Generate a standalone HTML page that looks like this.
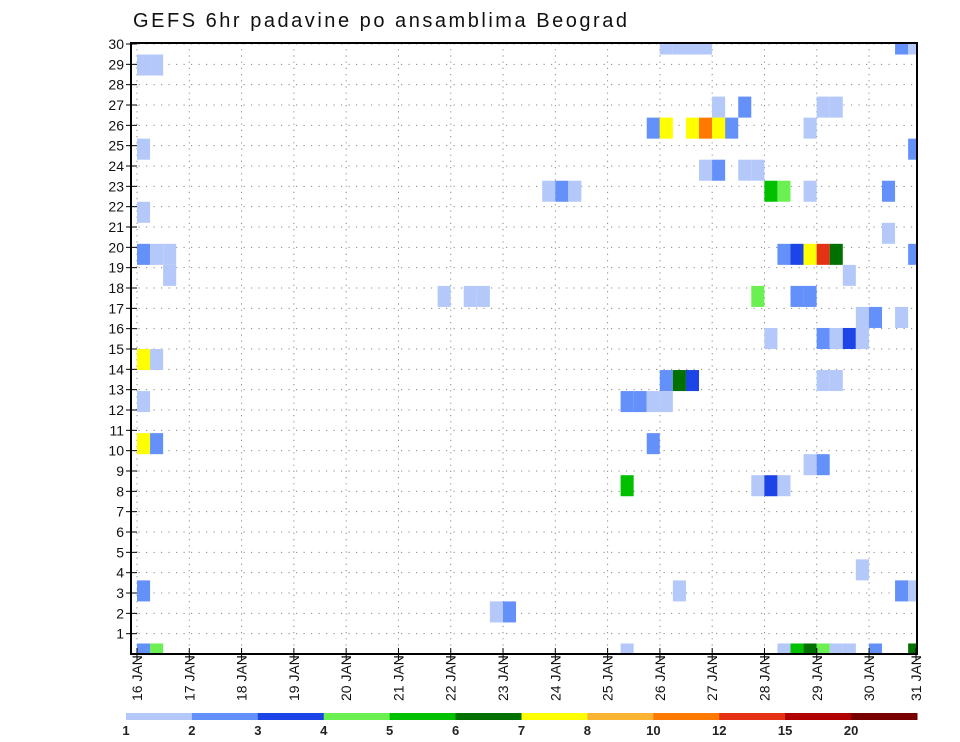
<!DOCTYPE html>
<html><head><meta charset="utf-8">
<style>
html,body{margin:0;padding:0;background:#fff;}
svg{display:block;font-family:"Liberation Sans","DejaVu Sans",sans-serif;}
</style></head>
<body>
<svg id="chart" width="960" height="742" viewBox="0 0 960 742" xmlns="http://www.w3.org/2000/svg">
<text x="133" y="27" font-size="20" fill="#111" textLength="494" lengthAdjust="spacing">GEFS 6hr padavine po ansamblima Beograd</text>
<g id="grid"></g>
<g id="cells"></g>
<g id="axes"></g>
<g id="colorbar"></g>
</svg>
<script>
// ---- data ----
const dayLabels = ["16","17","18","19","20","21","22","23","24","25","26","27","28","29","30","31"];
const yTickLabels = [1,2,3,4,5,6,7,8,9,10,11,12,13,14,15,16,17,18,19,20,21,22,23,24,25,26,27,28,29,30];
const levelThresholds = [1,2,3,4,5,6,7,8,10,12,15,20];
const levelColors = ["#b4c8fa","#6490fa","#1c44e6","#6af050","#00c000","#007000","#ffff00","#fab432","#ff7800","#e63214","#b00000","#780000"];
// cells: 6h step index from 16 JAN 00z, member row, precip value (mm)
const cellStep = [40,41,42,43,58,59, 0,1, 44,46,52,53, 39,40,42,43,44,45,51, 0,59, 43,44,46,47, 31,32,33,48,49,51,57, 0, 57, 0,1,2,49,50,51,52,53,59, 2,54, 23,25,26,47,50,51, 55,56,58, 48,52,53,54,55, 0,1, 40,41,42,52,53, 0,37,38,39,40, 0,1,39, 51,52, 37,47,48,49, 55, 0,41,58,59, 27,28, 0,1,37,49,50,51,52,53,54,56,59];
const cellMember = [29,29,29,29,29,29, 28,28, 26,26,26,26, 25,25,25,25,25,25,25, 24,24, 23,23,23,23, 22,22,22,22,22,22,22, 21, 20, 19,19,19,19,19,19,19,19,19, 18,18, 17,17,17,17,17,17, 16,16,16, 15,15,15,15,15, 14,14, 13,13,13,13,13, 12,12,12,12,12, 10,10,10, 9,9, 8,8,8,8, 4, 3,3,3,3, 2,2, 0,0,0,0,0,0,0,0,0,0,0];
const cellValue = [1.5,1.5,1.5,1.5,2.5,1.5, 1.5,1.5, 1.5,2.5,1.5,1.5, 2.5,7.5,7.5,11,7.5,2.5,1.5, 1.5,2.5, 1.5,2.5,1.5,1.5, 1.5,2.5,1.5,5.5,4.5,1.5,2.5, 1.5, 1.5, 2.5,1.5,1.5,2.5,3.5,7.5,13,6.5,2.5, 1.5,1.5, 1.5,1.5,1.5,4.5,2.5,2.5, 1.5,2.5,1.5, 1.5,2.5,1.5,3.5,1.5, 7.5,1.5, 2.5,6.5,3.5,1.5,1.5, 1.5,2.5,2.5,1.5,1.5, 7.5,2.5,2.5, 1.5,2.5, 5.5,1.5,3.5,1.5, 1.5, 2.5,1.5,2.5,1.5, 1.5,2.5, 2.5,4.5,1.5,1.5,5.5,6.5,4.5,1.5,1.5,2.5,6.5];

// ---- layout / axis functions ----
const L=131, R=917, T=43, B=654;
const NS="http://www.w3.org/2000/svg";
function xDay(d){return 137 + d*52.29;}
function xStep(s){return 137 + s*13.07;}
function yVal(v){return B - v*(B-44)/30;}
function yMember(m){return B - m*(B-44)/29;}
function colorFor(v){let c=levelColors[0];for(let k=0;k<levelThresholds.length;k++){if(v>=levelThresholds[k])c=levelColors[k];}return c;}
function mk(tag,attrs,parent){const e=document.createElementNS(NS,tag);for(const k in attrs)e.setAttribute(k,attrs[k]);parent.appendChild(e);return e;}

const grid=document.getElementById('grid'), cells=document.getElementById('cells'), axes=document.getElementById('axes'), cb=document.getElementById('colorbar');

// gridlines
yTickLabels.forEach(v=>{
  const g=mk('line',{x1:L,x2:R,y1:yVal(v),y2:yVal(v),stroke:"#888","stroke-width":1,"stroke-dasharray":"1.2 6.3"},grid);
  
  
});
dayLabels.forEach((d,i)=>{
  const x=xDay(i); if(x>R) return;
  const g=mk('line',{x1:x,x2:x,y1:T,y2:B,stroke:"#888","stroke-width":1,"stroke-dasharray":"1.2 5"},grid);
  
  
});

// cells
const half=(B-44)/29/2;
for(let k=0;k<cellStep.length;k++){
  const x0=xStep(cellStep[k]), x1=Math.min(xStep(cellStep[k]+1),R);
  const yc=yMember(cellMember[k]);
  const y0=Math.max(yc-half,T+1), y1=Math.min(yc+half,B);
  const r=mk('rect',{x:x0,y:y0,width:x1-x0,height:y1-y0,fill:colorFor(cellValue[k])},cells);
  
  
}

// axes frame
const frame=mk('rect',{x:L,y:T,width:R-L,height:B-T,fill:"none",stroke:"#000","stroke-width":2},axes);



yTickLabels.forEach(v=>{
  const y=yVal(v);
  mk('line',{x1:L-5,x2:L+6,y1:y,y2:y,stroke:"#000","stroke-width":1},axes);
  const t=mk('text',{x:L-7,y:y+5,"text-anchor":"end","font-size":14,fill:"#111"},axes);
  t.textContent=v;
  
  
});
dayLabels.forEach((d,i)=>{
  const x=Math.min(xDay(i),R-1);
  mk('line',{x1:x,x2:x,y1:B-6,y2:B+6,stroke:"#000","stroke-width":1},axes);
  const t=mk('text',{x:0,y:0,"font-size":14,fill:"#111",transform:"translate("+(x+5)+","+(B+47)+") rotate(-90)"},axes);
  t.setAttribute('xml:space','preserve');
  t.textContent=d+"  JAN";
  
  
});

// colorbar
const cbL=126, cbR=917, segW=(cbR-cbL)/levelColors.length;
levelColors.forEach((c,k)=>{
  const r=mk('rect',{x:cbL+k*segW,y:713,width:segW+0.5,height:7,fill:c},cb);
  
  
  const t=mk('text',{x:cbL+k*segW,y:735,"text-anchor":"middle","font-size":13,"font-weight":"bold",fill:"#222"},cb);
  t.textContent=levelThresholds[k];
  
  
});
</script>
</body></html>
